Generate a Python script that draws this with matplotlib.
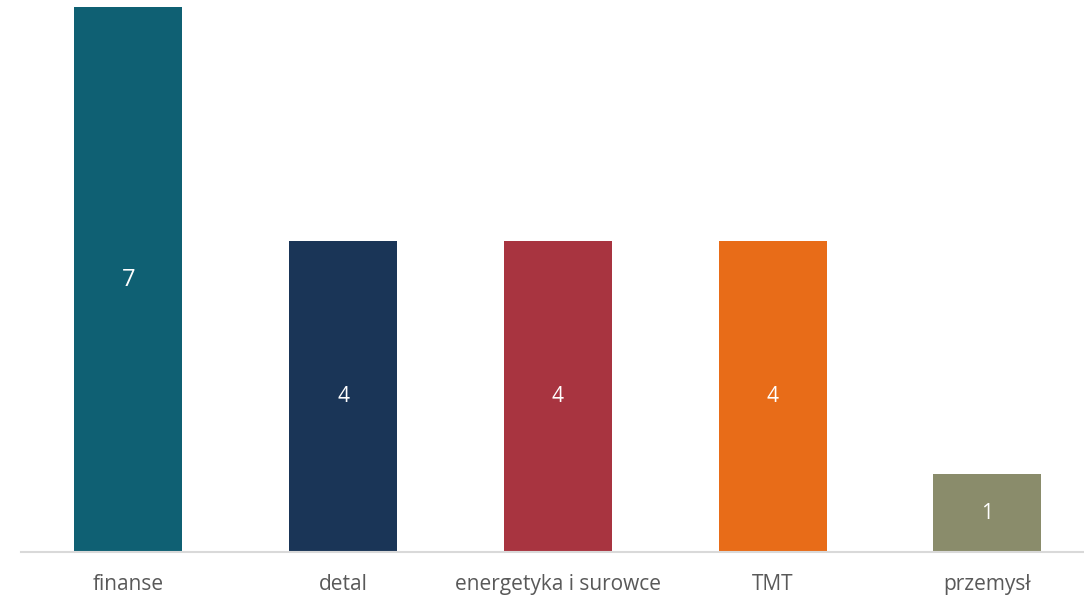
import matplotlib.pyplot as plt

# dane
kategorie = ['finanse', 'detal', 'energetyka i surowce', 'TMT', 'przemysł']
wartosci = [7, 4, 4, 4, 1]
kolory = ['#0F6073', '#1A3557', '#A83440', '#E86C18', '#8A8C6B']
rozmiar_etykiet = [17, 15, 15, 15, 15]

plt.rcParams['font.family'] = ['Open Sans', 'DejaVu Sans']

fig = plt.figure(figsize=(10.84, 5.96), dpi=100)
ax = fig.add_axes([21 / 1084, 44 / 596, 1063 / 1084, 545 / 596])

x = list(range(len(kategorie)))
bars = ax.bar(x, wartosci, width=0.503, color=kolory)

for b, v, fs in zip(bars, wartosci, rozmiar_etykiet):
    ax.text(b.get_x() + b.get_width() / 2, v / 2, str(v),
            ha='center', va='center', color='white', fontsize=fs)

ax.set_xlim(-0.5, 4.45)
ax.set_ylim(0, 7)
ax.set_xticks(x)
ax.set_xticklabels(kategorie, fontsize=15, color='#595959')
ax.tick_params(axis='x', length=0, pad=16)
ax.set_yticks([])
for s in ['top', 'right', 'left']:
    ax.spines[s].set_visible(False)
ax.spines['bottom'].set_color('#D9D9D9')
ax.spines['bottom'].set_linewidth(1.5)

fig.savefig('out.png', dpi=100)
